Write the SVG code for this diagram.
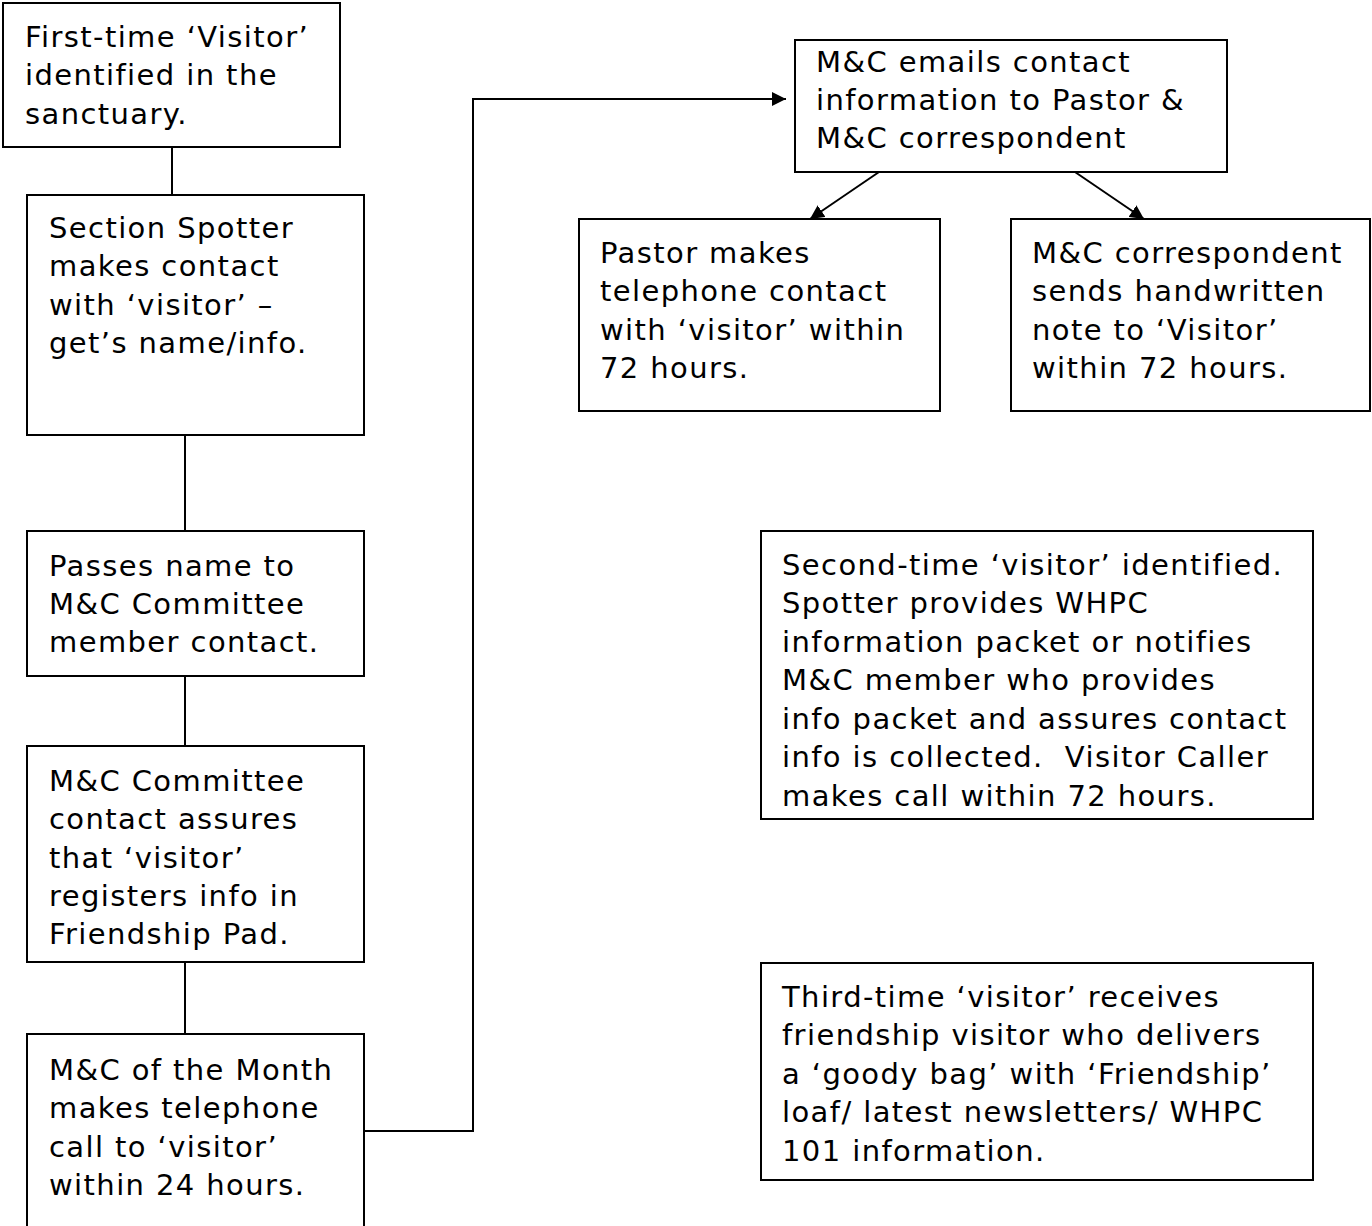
<svg xmlns="http://www.w3.org/2000/svg" width="1372" height="1226" viewBox="0 0 1372 1226">
<style>
.box{fill:#fff;stroke:#000;stroke-width:2}
.t{font-family:"DejaVu Sans","Liberation Sans",sans-serif;font-size:29px;letter-spacing:1.4px;fill:#000}
.c{fill:none;stroke:#000;stroke-width:2}
</style>
<defs>
<marker id="ah" viewBox="0 0 14 14" refX="14" refY="7" markerWidth="14" markerHeight="14" markerUnits="userSpaceOnUse" orient="auto">
<path d="M0,0 L14,7 L0,14 z" fill="#000"/>
</marker>
</defs>
<g id="connectors">
<line class="c" x1="172" y1="147" x2="172" y2="195"/>
<line class="c" x1="185" y1="435" x2="185" y2="531"/>
<line class="c" x1="185" y1="676" x2="185" y2="746"/>
<line class="c" x1="185" y1="962" x2="185" y2="1034"/>
<polyline class="c" points="364,1131 473,1131 473,99 786,99" marker-end="url(#ah)"/>
<line class="c" x1="879" y1="172" x2="810" y2="219" marker-end="url(#ah)"/>
<line class="c" x1="1075" y1="172" x2="1144" y2="219" marker-end="url(#ah)"/>
</g>
<g id="n1"><rect class="box" x="3" y="3" width="337" height="144"/>
<text class="t"><tspan x="25" y="47">First-time ‘Visitor’</tspan><tspan x="25" y="85">identified in the</tspan><tspan x="25" y="124">sanctuary.</tspan></text></g>
<g id="n2"><rect class="box" x="27" y="195" width="337" height="240"/>
<text class="t"><tspan x="49" y="238">Section Spotter</tspan><tspan x="49" y="276">makes contact</tspan><tspan x="49" y="315">with ‘visitor’ –</tspan><tspan x="49" y="353">get’s name/info.</tspan></text></g>
<g id="n3"><rect class="box" x="27" y="531" width="337" height="145"/>
<text class="t"><tspan x="49" y="576">Passes name to</tspan><tspan x="49" y="614">M&amp;C Committee</tspan><tspan x="49" y="652">member contact.</tspan></text></g>
<g id="n4"><rect class="box" x="27" y="746" width="337" height="216"/>
<text class="t"><tspan x="49" y="791">M&amp;C Committee</tspan><tspan x="49" y="829">contact assures</tspan><tspan x="49" y="868">that ‘visitor’</tspan><tspan x="49" y="906">registers info in</tspan><tspan x="49" y="944">Friendship Pad.</tspan></text></g>
<g id="n5"><rect class="box" x="27" y="1034" width="337" height="220"/>
<text class="t"><tspan x="49" y="1080">M&amp;C of the Month</tspan><tspan x="49" y="1118">makes telephone</tspan><tspan x="49" y="1157">call to ‘visitor’</tspan><tspan x="49" y="1195">within 24 hours.</tspan></text></g>
<g id="n6"><rect class="box" x="795" y="40" width="432" height="132"/>
<text class="t"><tspan x="816" y="72">M&amp;C emails contact</tspan><tspan x="816" y="110">information to Pastor &amp;</tspan><tspan x="816" y="148">M&amp;C correspondent</tspan></text></g>
<g id="n7"><rect class="box" x="579" y="219" width="361" height="192"/>
<text class="t"><tspan x="600" y="263">Pastor makes</tspan><tspan x="600" y="301">telephone contact</tspan><tspan x="600" y="340">with ‘visitor’ within</tspan><tspan x="600" y="378">72 hours.</tspan></text></g>
<g id="n8"><rect class="box" x="1011" y="219" width="359" height="192"/>
<text class="t"><tspan x="1032" y="263">M&amp;C correspondent</tspan><tspan x="1032" y="301">sends handwritten</tspan><tspan x="1032" y="340">note to ‘Visitor’</tspan><tspan x="1032" y="378">within 72 hours.</tspan></text></g>
<g id="n9"><rect class="box" x="761" y="531" width="552" height="288"/>
<text class="t"><tspan x="782" y="575">Second-time ‘visitor’ identified.</tspan><tspan x="782" y="613">Spotter provides WHPC</tspan><tspan x="782" y="652">information packet or notifies</tspan><tspan x="782" y="690">M&amp;C member who provides</tspan><tspan x="782" y="729">info packet and assures contact</tspan><tspan x="782" y="767">info is collected.&#160; Visitor Caller</tspan><tspan x="782" y="806">makes call within 72 hours.</tspan></text></g>
<g id="n10"><rect class="box" x="761" y="963" width="552" height="217"/>
<text class="t"><tspan x="782" y="1007">Third-time ‘visitor’ receives</tspan><tspan x="782" y="1045">friendship visitor who delivers</tspan><tspan x="782" y="1084">a ‘goody bag’ with ‘Friendship’</tspan><tspan x="782" y="1122">loaf/ latest newsletters/ WHPC</tspan><tspan x="782" y="1161">101 information.</tspan></text></g>
</svg>
